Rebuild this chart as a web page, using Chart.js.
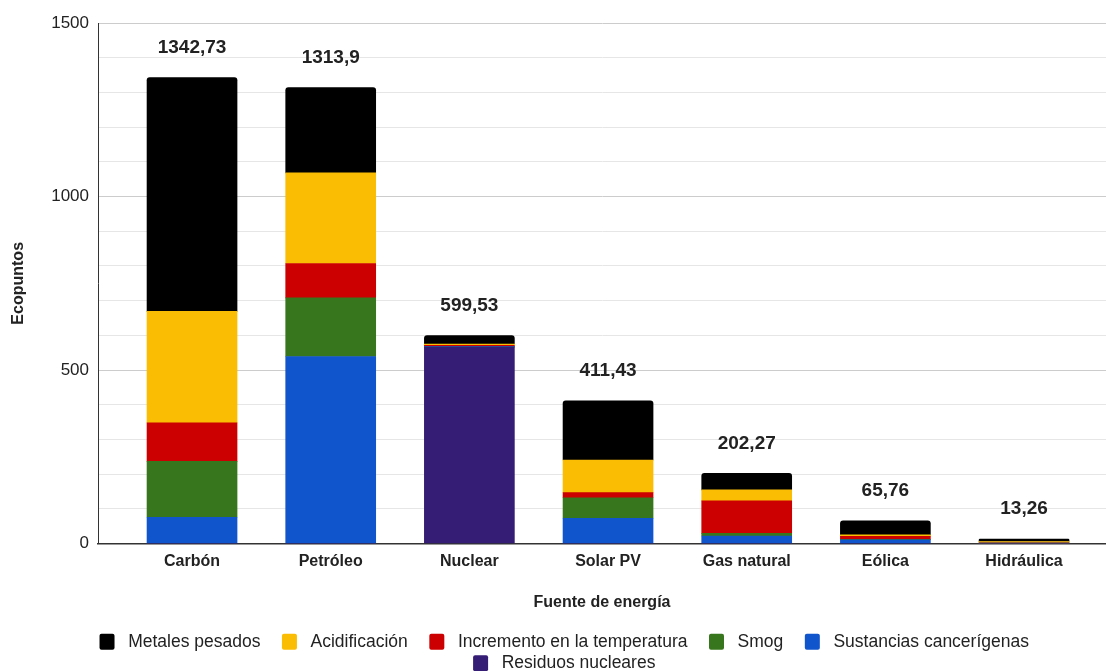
<!DOCTYPE html>
<html lang="es">
<head>
<meta charset="utf-8">
<title>Ecopuntos por fuente de energía</title>
<script src="https://cdn.jsdelivr.net/npm/chart.js@4.4.1/dist/chart.umd.min.js"></script>
<style>
    html, body { margin: 0; padding: 0; background: #ffffff; overflow: hidden; }
    #wrap { position: relative; width: 1106px; height: 682px; }
</style>
</head>
<body>
<div id="wrap"><canvas id="chart"></canvas></div>
<script>
const categories = ["Carbón", "Petróleo", "Nuclear", "Solar PV", "Gas natural", "Eólica", "Hidráulica"];
const totals = [1342.73, 1313.9, 599.53, 411.43, 202.27, 65.76, 13.26];

// series, from bottom of the stack to the top
const residuosNucleares = [0, 0, 566, 0, 0, 0, 0];
const sustanciasCancerigenas = [76, 539, 1.5, 73, 22, 11, 1];
const smog = [161, 169, 0.5, 59, 7.5, 1, 0.5];
const incrementoTemperatura = [111, 99, 3, 15, 93.5, 9, 0.5];
const acidificacion = [321, 261, 4, 94, 32, 4, 4];
const metalesPesados = [673.73, 245.9, 24.53, 170.43, 47.27, 40.76, 7.26];

const yTicks = [0, 500, 1000, 1500];

Chart.defaults.font.family = '"Liberation Sans", Arial, sans-serif';
Chart.defaults.color = "#222222";

function series(label, values, color) {
    return {
        label: label,
        data: values.map((v, i) => ({ x: i, y: v })),
        backgroundColor: color,
        borderWidth: 0,
        borderRadius: 3,
        barThickness: 90,
    };
}

const totalsPlugin = {
    id: "totals",
    afterDatasetsDraw(chart) {
        const { ctx, scales } = chart;
        ctx.save();
        ctx.font = 'bold 19px "Liberation Sans", Arial, sans-serif';
        ctx.fillStyle = "#222222";
        ctx.textAlign = "center";
        ctx.textBaseline = "middle";
        totals.forEach((t, i) => {
            const x = scales.x.getPixelForValue(i);
            const y = scales.y.getPixelForValue(t) - 30;
            ctx.fillText(String(t).replace(".", ","), x, y);
        });
        ctx.restore();
    },
};

// nudge the legend a little to the right, like the original
const legendShift = {
    id: "legendShift",
    afterLayout(chart) {
        const lg = chart.legend;
        if (!lg) return;
        lg.left += 20;
        lg.right += 20;
    },
};

new Chart(document.getElementById("chart"), {
    type: "bar",
    data: {
        datasets: [
            series("Residuos nucleares", residuosNucleares, "#351c75"),
            series("Sustancias cancerígenas", sustanciasCancerigenas, "#1155cc"),
            series("Smog", smog, "#38761d"),
            series("Incremento en la temperatura", incrementoTemperatura, "#cc0000"),
            series("Acidificación", acidificacion, "#fbbc04"),
            series("Metales pesados", metalesPesados, "#000000"),
        ],
    },
    options: {
        responsive: true,
        maintainAspectRatio: false,
        animation: false,
        events: [],
        layout: { padding: { top: 23, left: 0, right: 0, bottom: 0 } },
        plugins: {
            tooltip: { enabled: false },
            legend: {
                position: "bottom",
                reverse: true,
                labels: {
                    boxWidth: 15,
                    boxHeight: 16,
                    padding: 4,
                    useBorderRadius: true,
                    borderRadius: 2,
                    color: "#222222",
                    font: { size: 17.5 },
                    generateLabels(chart) {
                        const items = Chart.defaults.plugins.legend.labels.generateLabels(chart);
                        return items.map((item) => {
                            item.text = " " + item.text + "\u2002\u2002";
                            item.lineWidth = 0;
                            return item;
                        });
                    },
                },
            },
        },
        scales: {
            x: {
                type: "linear",
                stacked: true,
                offset: false,
                min: -0.678,
                max: 6.591,
                grid: { display: false, drawTicks: false },
                border: { display: true, color: "#333333", width: 1.5 },
                ticks: {
                    stepSize: 1,
                    includeBounds: false,
                    autoSkip: false,
                    maxRotation: 0,
                    padding: 8,
                    color: "#222222",
                    font: { size: 16, weight: "bold" },
                    callback: (value) => categories[value] ?? "",
                },
                title: {
                    display: true,
                    text: "Fuente de energía",
                    color: "#222222",
                    font: { size: 16, weight: "bold" },
                    padding: { top: 14, bottom: 17 },
                },
            },
            y: {
                stacked: true,
                min: 0,
                max: 1500,
                grid: {
                    drawTicks: false,
                    color: (ctx) => {
                        const v = ctx.tick.value;
                        if (v === 0) return "rgba(0,0,0,0)";
                        return yTicks.includes(v) ? "#cccccc" : "#e6e6e6";
                    },
                },
                border: { display: true, color: "#333333", width: 1 },
                ticks: {
                    stepSize: 100,
                    padding: 9,
                    color: "#222222",
                    font: { size: 17 },
                    callback: (value) => (yTicks.includes(value) ? String(value) : ""),
                },
                title: {
                    display: true,
                    text: "Ecopuntos",
                    color: "#222222",
                    font: { size: 16, weight: "bold" },
                    padding: { top: 9, bottom: 14 },
                },
            },
        },
    },
    plugins: [totalsPlugin, legendShift],
});
</script>
</body>
</html>
